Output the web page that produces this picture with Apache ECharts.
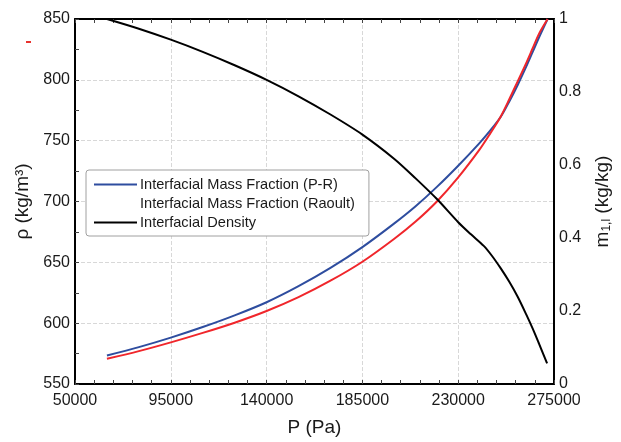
<!DOCTYPE html>
<html>
<head>
    <meta charset="UTF-8">
    <title>Interfacial density and mass fraction</title>
    <script src="https://cdn.jsdelivr.net/npm/echarts@6/dist/echarts.min.js"></script>
    <style>
        html, body { margin: 0; padding: 0; background: #fff; }
        #chart { width: 621px; height: 442px; }
    </style>
</head>
<body>
<div id="chart"></div>
<script>
    // pressure (Pa) for the mass fraction curves
    var pressure = [65000, 80000, 95000, 110000, 125000, 140000, 155000, 170000, 185000,
        200000, 210000, 220000, 230000, 240000, 245000, 250000, 254000, 258000, 262000,
        265000, 268000, 272000];
    var massFracPR = [0.078, 0.101, 0.127, 0.156, 0.188, 0.224, 0.268, 0.318, 0.375,
        0.440, 0.487, 0.540, 0.598, 0.660, 0.694, 0.732, 0.774, 0.820, 0.870,
        0.910, 0.950, 1.0];
    var massFracRaoult = [0.069, 0.090, 0.114, 0.140, 0.168, 0.200, 0.238, 0.283, 0.335,
        0.398, 0.445, 0.500, 0.566, 0.642, 0.686, 0.733, 0.780, 0.830, 0.880,
        0.920, 0.960, 1.0];

    // pressure (Pa) for the density curve
    var densityP = [65000, 80000, 95000, 110000, 125000, 140000, 155000, 170000, 185000,
        200000, 210000, 220000, 230000, 236000, 242000, 246000, 250000, 254000, 258000,
        262000, 265000, 268000, 271750];
    var density = [850, 842, 833, 823, 812, 800, 786.5, 771.5, 755,
        735, 719, 702, 683, 673, 663.5, 655, 645, 634, 621.5,
        607, 595.5, 583, 567];

    var xTicks = [50000, 95000, 140000, 185000, 230000, 275000];
    var rhoTicks = [550, 600, 650, 700, 750, 800, 850];
    var mTicks = [0, 0.2, 0.4, 0.6, 0.8, 1];

    var names = ['Interfacial Mass Fraction (P-R)', 'Interfacial Mass Fraction (Raoult)', 'Interfacial Density'];

    function pairs(xs, ys) {
        return xs.map(function (x, i) { return [x, ys[i]]; });
    }

    var font = 'Arial, "Liberation Sans", sans-serif';
    var ink = '#1a1a1a';

    var xBase = {
        type: 'value',
        min: xTicks[0],
        max: xTicks[xTicks.length - 1],
        interval: xTicks[1] - xTicks[0],
        axisLine: { show: true, onZero: false, lineStyle: { color: '#000', width: 2 } },
        axisTick: { show: true, inside: true, length: 4, lineStyle: { color: '#444' } },
        minorTick: { show: true, splitNumber: 5, length: 4, lineStyle: { color: '#444' } }
    };

    var chart = echarts.init(document.getElementById('chart'), null, { renderer: 'canvas' });

    chart.setOption({
        backgroundColor: '#fff',
        animation: false,
        textStyle: { fontFamily: font },
        grid: { left: 75, right: 61, top: 19, bottom: 53, containLabel: false },
        graphic: [{
            type: 'rect',
            shape: { x: 26, y: 41, width: 5, height: 2 },
            style: { fill: '#e8322e' }
        }],
        legend: {
            orient: 'vertical',
            left: 86,
            top: 170,
            padding: [7, 14, 6, 8],
            itemGap: 4,
            itemWidth: 43,
            itemHeight: 2,
            icon: 'rect',
            backgroundColor: '#fff',
            borderColor: '#a0a0a0',
            borderWidth: 1,
            borderRadius: 3,
            textStyle: { fontSize: 14.6, lineHeight: 14, color: ink, fontFamily: font, padding: [0, 0, 0, -2] },
            data: [
                { name: names[0] },
                { name: names[1], itemStyle: { opacity: 0 } },
                { name: names[2] }
            ]
        },
        xAxis: [
            Object.assign({}, xBase, {
                position: 'bottom',
                name: 'P (Pa)',
                nameLocation: 'middle',
                nameGap: 34,
                nameTextStyle: { fontSize: 19, color: ink },
                axisLabel: { fontSize: 16, color: ink, margin: 9, formatter: function (v) { return String(v); } },
                splitLine: { show: true, lineStyle: { color: '#d8d8d8', type: 'dashed' } }
            }),
            Object.assign({}, xBase, {
                position: 'top',
                axisLabel: { show: false },
                splitLine: { show: false }
            })
        ],
        yAxis: [
            {
                type: 'value',
                position: 'left',
                min: rhoTicks[0],
                max: rhoTicks[rhoTicks.length - 1],
                interval: rhoTicks[1] - rhoTicks[0],
                name: 'ρ (kg/m³)',
                nameLocation: 'middle',
                nameRotate: 90,
                nameGap: 38,
                nameTextStyle: { fontSize: 19, color: ink },
                axisLine: { show: true, lineStyle: { color: '#000', width: 2 } },
                axisTick: { show: true, inside: true, length: 4, lineStyle: { color: '#444' } },
                minorTick: { show: true, splitNumber: 2, length: 4, lineStyle: { color: '#444' } },
                axisLabel: { fontSize: 16, color: ink, margin: 5 },
                splitLine: { show: true, lineStyle: { color: '#d8d8d8', type: 'dashed' } }
            },
            {
                type: 'value',
                position: 'right',
                min: mTicks[0],
                max: mTicks[mTicks.length - 1],
                interval: mTicks[1] - mTicks[0],
                name: 'm{sub|1,l} (kg/kg)',
                nameLocation: 'middle',
                nameRotate: 90,
                nameGap: 39,
                nameTextStyle: {
                    fontSize: 19, color: ink,
                    rich: { sub: { fontSize: 12, color: ink, verticalAlign: 'bottom', padding: [8, 0, 0, 0] } }
                },
                axisLine: { show: true, lineStyle: { color: '#000', width: 2 } },
                axisTick: { show: false },
                axisLabel: { fontSize: 16, color: ink, margin: 5 },
                splitLine: { show: false }
            }
        ],
        series: [
            {
                name: names[0],
                type: 'line',
                yAxisIndex: 1,
                smooth: 0.3,
                showSymbol: false,
                symbol: 'none',
                color: '#2e4d9f',
                lineStyle: { width: 2 },
                data: pairs(pressure, massFracPR)
            },
            {
                name: names[1],
                type: 'line',
                yAxisIndex: 1,
                smooth: 0.3,
                showSymbol: false,
                symbol: 'none',
                color: '#f0262b',
                lineStyle: { width: 2 },
                data: pairs(pressure, massFracRaoult)
            },
            {
                name: names[2],
                type: 'line',
                yAxisIndex: 0,
                smooth: 0.3,
                showSymbol: false,
                symbol: 'none',
                color: '#000',
                lineStyle: { width: 2 },
                data: pairs(densityP, density)
            }
        ]
    });
</script>
</body>
</html>
